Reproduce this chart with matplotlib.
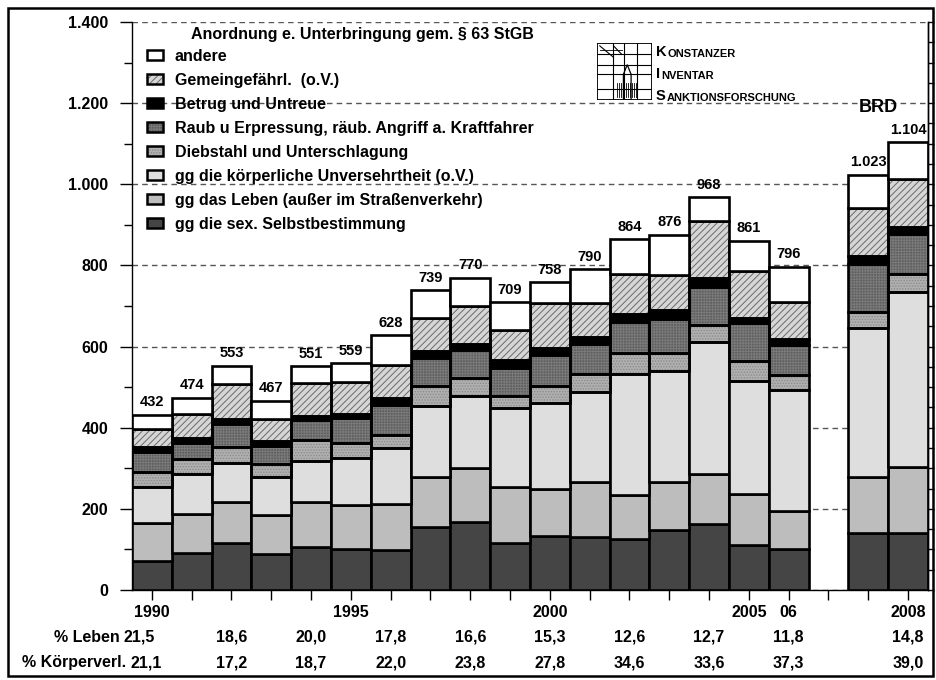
import numpy as np
import matplotlib.pyplot as plt
from matplotlib.patches import Patch, Rectangle, Polygon
from matplotlib.lines import Line2D
from matplotlib.ticker import MultipleLocator, FuncFormatter

plt.rcParams['font.family'] = ['Liberation Sans', 'DejaVu Sans']
plt.rcParams['font.weight'] = 'bold'
plt.rcParams['hatch.linewidth'] = 0.7

# --- data -----------------------------------------------------------------
years = [1990, 1991, 1992, 1993, 1994, 1995, 1996, 1997, 1998, 1999,
         2000, 2001, 2002, 2003, 2004, 2005, 2006, 2007, 2008]
slots = [0, 1, 2, 3, 4, 5, 6, 7, 8, 9, 10, 11, 12, 13, 14, 15, 16, 18, 19]

sex_selbst = [72, 90, 115, 88, 106, 101, 99, 156, 168, 117, 134, 131, 125,
              148, 163, 111, 101, 141, 140]
leben = [93, 97, 103, 97, 110, 108, 112, 123, 132, 138, 116, 134, 109, 119,
         123, 126, 94, 137, 163]
koerper = [90, 99, 95, 94, 103, 116, 138, 175, 178, 193, 211, 224, 299, 274,
           326, 277, 297, 369, 431]
diebstahl = [36, 37, 40, 31, 51, 37, 33, 49, 45, 29, 43, 43, 52, 43, 41, 50,
             38, 39, 44]
raub = [49, 40, 55, 46, 48, 61, 74, 70, 69, 71, 76, 74, 76, 85, 93, 93, 73,
        117, 99]
betrug = [12, 11, 14, 12, 11, 12, 18, 15, 15, 18, 16, 17, 20, 20, 24, 14, 16,
          20, 18]
gemein = [46, 61, 86, 53, 82, 78, 81, 82, 92, 74, 111, 84, 98, 88, 140, 115,
          91, 119, 118]
andere = [34, 39, 45, 46, 40, 46, 73, 69, 71, 69, 51, 83, 85, 99, 58, 75, 86,
          81, 91]
totals = [432, 474, 553, 467, 551, 559, 628, 739, 770, 709, 758, 790, 864,
          876, 968, 861, 796, 1023, 1104]

labels = ["gg die sex. Selbstbestimmung",
          "gg das Leben (außer im Straßenverkehr)",
          "gg die körperliche Unversehrtheit (o.V.)",
          "Diebstahl und Unterschlagung",
          "Raub u Erpressung, räub. Angriff a. Kraftfahrer",
          "Betrug und Untreue",
          "Gemeingefährl.  (o.V.)",
          "andere"]

pct_slots = [0, 2, 4, 6, 8, 10, 12, 14, 16, 19]
pct_leben = [21.5, 18.6, 20.0, 17.8, 16.6, 15.3, 12.6, 12.7, 11.8, 14.8]
pct_koerper = [21.1, 17.2, 18.7, 22.0, 23.8, 27.8, 34.6, 33.6, 37.3, 39.0]

year_ticks = {0: "1990", 5: "1995", 10: "2000", 15: "2005", 16: "06",
              19: "2008"}

# --- styles ----------------------------------------------------------------
faces = ['#454545', '#bdbdbd', '#dedede', '#b0b0b0', '#5e5e5e', '#000000',
         '#d6d6d6', '#ffffff']
hatches = [None, None, None, '......', '++++++', None, '/////', None]
hatch_cols = [None, None, None, '#8a8a8a', '#7a7a7a', None, '#6a6a6a', None]


def fmt_num(v):
    return f"{int(v):,}".replace(",", ".")


W, H = 937, 680
fig = plt.figure(figsize=(W / 100, H / 100), dpi=100)
ax = fig.add_axes([132 / W, 1 - 590 / H, (928 - 132) / W, 568 / H])

series = [sex_selbst, leben, koerper, diebstahl, raub, betrug, gemein, andere]
bottom = np.zeros(len(slots))
handles = []
for vals, fc, hp, hc, lab in zip(series, faces, hatches, hatch_cols, labels):
    vals = np.array(vals, dtype=float)
    if hp:
        ax.bar(slots, vals, 1.0, bottom=bottom, color=fc, edgecolor=hc,
               hatch=hp, linewidth=0, zorder=2)
        ax.bar(slots, vals, 1.0, bottom=bottom, fill=False, edgecolor='black',
               linewidth=1.9, zorder=3)
        h = (Patch(facecolor=fc, edgecolor=hc, hatch=hp, linewidth=0),
             Patch(fill=False, edgecolor='black', linewidth=1.8))
    else:
        ax.bar(slots, vals, 1.0, bottom=bottom, color=fc, edgecolor='black',
               linewidth=1.9, zorder=3)
        h = Patch(facecolor=fc, edgecolor='black', linewidth=1.8)
    handles.append(h)
    bottom = bottom + vals

for x, t in zip(slots, totals):
    ax.annotate(fmt_num(t), (x, t), xytext=(0, 4), textcoords='offset points',
                ha='center', va='bottom', fontsize=10.5, fontweight='bold',
                zorder=5)

ax.text(18.25, 1190, "BRD", ha='center', va='center', fontsize=13,
        fontweight='bold')

# axes & ticks
ax.set_xlim(-0.5, 19.5)
ax.set_ylim(0, 1400)
ax.yaxis.set_major_locator(MultipleLocator(200))
ax.yaxis.set_minor_locator(MultipleLocator(100))
ax.yaxis.set_major_formatter(FuncFormatter(lambda v, p: fmt_num(v)))
ax.set_xticks(range(20))
ax.set_xticklabels([year_ticks.get(i, "") for i in range(20)])
ax.tick_params(axis='y', which='major', direction='out', length=9, width=1,
               labelsize=11.5, pad=8)
ax.tick_params(axis='y', which='minor', direction='out', length=6, width=1)
ax.tick_params(axis='x', direction='out', length=7, width=1, labelsize=11.5,
               pad=4)
for lab in ax.get_xticklabels() + ax.get_yticklabels():
    lab.set_fontweight('bold')

ax.set_axisbelow(True)
ax.yaxis.grid(True, which='major', color='#555555', linestyle=(0, (4, 3)),
              linewidth=1.0, zorder=0)
ax.spines['top'].set_visible(False)
for s in ('left', 'bottom', 'right'):
    ax.spines[s].set_linewidth(1.0)

ax2 = ax.twinx()
ax2.set_ylim(0, 1400)
ax2.yaxis.set_major_locator(MultipleLocator(50))
ax2.tick_params(axis='y', direction='out', length=4, width=1, labelright=False)
for s in ('top', 'left', 'bottom'):
    ax2.spines[s].set_visible(False)
ax2.spines['right'].set_linewidth(1.0)

# percentage rows below the axis
xt = ax.get_xaxis_transform()
y_leb = (590 - 637) / 568
y_kor = (590 - 663) / 568
ax.text(-0.8, y_leb, "% Leben", transform=xt, ha='right', va='center',
        fontsize=11.5, fontweight='bold')
ax.text(-0.65, y_kor, "% Körperverl.", transform=xt, ha='right', va='center',
        fontsize=11.5, fontweight='bold')
for i, (x, pl, pk) in enumerate(zip(pct_slots, pct_leben, pct_koerper)):
    xl = -0.32 if i == 0 else x
    xk = -0.15 if i == 0 else x
    ax.text(xl, y_leb, f"{pl:.1f}".replace(".", ","), transform=xt,
            ha='center', va='center', fontsize=11.5, fontweight='bold')
    ax.text(xk, y_kor, f"{pk:.1f}".replace(".", ","), transform=xt,
            ha='center', va='center', fontsize=11.5, fontweight='bold')

# legend
fig.text(362 / W, 1 - 34 / H, "Anordnung e. Unterbringung gem. § 63 StGB",
         ha='center', va='center', fontsize=11.5, fontweight='bold')
leg = ax.legend(handles[::-1], labels[::-1], loc='upper left',
                bbox_to_anchor=(147 / W, 1 - 49 / H),
                bbox_transform=fig.transFigure, frameon=False,
                fontsize=11.5, handlelength=1.0, handleheight=0.6,
                handletextpad=0.75, labelspacing=0.56, borderpad=0,
                borderaxespad=0)
for t in leg.get_texts():
    t.set_fontweight('bold')

# logo
lax = fig.add_axes([597 / W, 1 - 100 / H, 55 / W, 57 / H])
lax.set_xlim(0, 1)
lax.set_ylim(0, 1)
lax.axis('off')
lax.add_patch(Rectangle((0, 0), 1, 1, fill=False, lw=1.3, color='black'))
for xv in (0.3, 0.5, 0.72):
    lax.add_line(Line2D([xv, xv], [0, 1], lw=0.8, color='black'))
for yv in (0.2, 0.45, 0.62, 0.8):
    lax.add_line(Line2D([0, 1], [yv, yv], lw=0.8, color='black'))
lax.add_line(Line2D([0.05, 0.3], [0.95, 0.75], lw=0.8, color='black'))
lax.add_line(Line2D([0.3, 0.45], [0.95, 0.8], lw=0.8, color='black'))
lax.add_patch(Polygon([[0.48, 0.0], [0.48, 0.45], [0.55, 0.62], [0.62, 0.45],
                       [0.62, 0.0]], closed=True, fill=False, lw=0.9,
                      color='black'))
for xv in np.arange(0.36, 0.72, 0.035):
    lax.add_line(Line2D([xv, xv], [0.05, 0.3], lw=0.6, color='black'))
lax.add_line(Line2D([0.05, 0.45], [0.88, 0.88], lw=0.6, color='black'))

logo_rows = [("K", "ONSTANZER", 56), ("I", "NVENTAR", 78),
             ("S", "ANKTIONSFORSCHUNG", 100)]
for big, rest, yb in logo_rows:
    t = fig.text(656 / W, 1 - yb / H, big, ha='left', va='baseline',
                 fontsize=10.5, fontweight='bold')
    ax.annotate(rest, xy=(1, 0), xycoords=t, xytext=(0.5, 0),
                textcoords='offset points', ha='left', va='bottom',
                fontsize=8, fontweight='bold', annotation_clip=False)

# frame around the figure
fig.add_artist(Rectangle((8 / W, 4 / H), (933 - 8) / W, (672 - 4) / H,
                         transform=fig.transFigure, fill=False, lw=1.8,
                         color='black'))

fig.savefig("out.png", dpi=100)
